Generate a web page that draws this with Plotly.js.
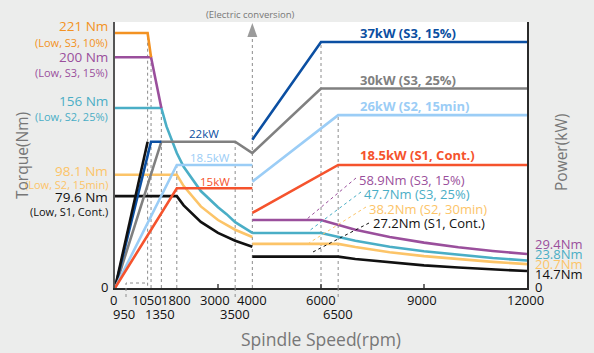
<!DOCTYPE html>
<html><head><meta charset="utf-8">
<script src="https://cdn.plot.ly/plotly-3.0.1.min.js"></script>
<style>html,body{margin:0;padding:0;background:#ecedec;}#chart{width:594px;height:353px;}</style>
</head><body><div id="chart"></div>
<script>
// ---------- data ----------
const xTicksRow1 = [0, 1050, 1800, 3000, 4000, 6000, 9000, 12000];
const xTicksRow2 = [950, 1350, 3500, 6500];

// torque (Nm), low-speed winding
const t221Rpm = [0, 950, 1050];
const t221 = [221, 221, 200];
const t200Rpm = [0, 1050, 1350];
const t200 = [200, 200, 156];
const t156Rpm = [0, 1350, 1500, 1800, 2000, 2500, 3000, 3250, 3500, 3750, 4000];
const t156 = [156, 156, 140, 117, 105, 84, 70, 64, 57, 52, 47.7];
const t98Rpm = [0, 1800, 2000, 2500, 3000, 3500, 4000];
const t98 = [98.1, 98.1, 88.3, 70.7, 58.9, 50.5, 44.2];
const t80Rpm = [0, 1800, 2000, 2500, 3000, 3500, 4000];
const t80 = [79.6, 79.6, 71.6, 57.3, 47.7, 40.9, 35.8];
// torque (Nm), high-speed winding
const t59Rpm = [4000, 6000, 7000, 8000, 9000, 10000, 11000, 12000];
const t59 = [58.9, 58.9, 50.5, 44.2, 39.3, 35.3, 32.1, 29.4];
const t48Rpm = [4000, 6000, 7000, 8000, 9000, 10000, 11000, 12000];
const t48 = [47.7, 47.7, 40.9, 35.8, 31.8, 28.6, 26.0, 23.8];
const t38Rpm = [4000, 6500, 7000, 8000, 9000, 10000, 11000, 12000];
const t38 = [38.2, 38.2, 35.5, 31.0, 27.6, 24.8, 22.6, 20.7];
const t27Rpm = [4000, 6500, 7000, 8000, 9000, 10000, 11000, 12000];
const t27 = [27.2, 27.2, 25.2, 22.1, 19.6, 17.7, 16.1, 14.7];

// power (kW)
const pBlackRpm = [0, 950];
const pBlack = [0, 22];
const pBlueLowRpm = [0, 1050, 1350];
const pBlueLow = [0, 22, 22];
const pBlueHighRpm = [4000, 6000, 12000];
const pBlueHigh = [22.3, 37, 37];
const pGrayRpm = [0, 1350, 3500, 4000, 6000, 12000];
const pGray = [0, 22, 22, 20.3, 30, 30];
const pLBlueLowRpm = [0, 1800, 4000];
const pLBlueLow = [0, 18.5, 18.5];
const pLBlueHighRpm = [4000, 6500, 12000];
const pLBlueHigh = [16, 26, 26];
const pRedLowRpm = [0, 1800, 4000];
const pRedLow = [0, 15, 15];
const pRedHighRpm = [4000, 6500, 12000];
const pRedHigh = [11.3, 18.5, 18.5];

// ---------- styling ----------
const C = {
  orange: '#f39222', purple: '#9a4f9c', teal: '#4aaec6', lorange: '#fcc468',
  black: '#111111', blue: '#0b4fa2', gray: '#808080', lblue: '#9bcdf6', red: '#f5532d'
};
const FONT = 'Open Sans, Noto Sans, sans-serif';
const W = 594, H = 353, L = 115, R = 67, T = 22, B = 65;
const plotH = H - T - B;
const py = p => (H - B - p) / plotH;           // pixel y -> paper y
const px = p => (p - L) / (W - L - R);         // pixel x -> paper x

function line(x, y, color, axis) {
  return {x: x, y: y, type: 'scatter', mode: 'lines', yaxis: axis || 'y',
    line: {color: color, width: 2.6}, hoverinfo: 'skip', showlegend: false};
}

const data = [
  line(t80Rpm, t80, C.black), line(t98Rpm, t98, C.lorange),
  line(t156Rpm, t156, C.teal), line(t200Rpm, t200, C.purple), line(t221Rpm, t221, C.orange),
  line(t27Rpm, t27, C.black), line(t38Rpm, t38, C.lorange),
  line(t48Rpm, t48, C.teal), line(t59Rpm, t59, C.purple),
  line(pGrayRpm, pGray, C.gray, 'y2'),
  line(pBlueLowRpm, pBlueLow, C.blue, 'y2'), line(pBlueHighRpm, pBlueHigh, C.blue, 'y2'),
  line(pBlackRpm, pBlack, C.black, 'y2'),
  line(pLBlueLowRpm, pLBlueLow, C.lblue, 'y2'), line(pLBlueHighRpm, pLBlueHigh, C.lblue, 'y2'),
  line(pRedLowRpm, pRedLow, C.red, 'y2'), line(pRedHighRpm, pRedHigh, C.red, 'y2')
];

const dot = {color: '#8c8c8c', width: 1, dash: 'dot'};
const shapes = [
  {type: 'line', xref: 'x', yref: 'y', x0: 950, x1: 950, y0: 2, y1: 221, line: dot, layer: 'below'},
  {type: 'line', xref: 'x', yref: 'y', x0: 1050, x1: 1050, y0: 0, y1: 200, line: dot, layer: 'below'},
  {type: 'line', xref: 'x', yref: 'y', x0: 1350, x1: 1350, y0: 0, y1: 156, line: dot, layer: 'below'},
  {type: 'line', xref: 'x', yref: 'y2', x0: 1800, x1: 1800, y0: 0, y1: 18.5, line: dot, layer: 'below'},
  {type: 'line', xref: 'x', yref: 'y2', x0: 3500, x1: 3500, y0: 0, y1: 22, line: dot, layer: 'below'},
  {type: 'line', xref: 'x', yref: 'paper', x0: 4000, x1: 4000, y0: 0, y1: py(37), line: dot, layer: 'below'},
  {type: 'line', xref: 'x', yref: 'y2', x0: 6000, x1: 6000, y0: 0, y1: 37, line: dot, layer: 'below'},
  {type: 'line', xref: 'x', yref: 'y2', x0: 6500, x1: 6500, y0: 0, y1: 26, line: dot, layer: 'below'},
  // extensions below the axis
  {type: 'line', xref: 'x', yref: 'paper', x0: 3500, x1: 3500, y0: 0, y1: py(298), line: dot},
  {type: 'line', xref: 'x', yref: 'paper', x0: 6500, x1: 6500, y0: 0, y1: py(298), line: dot},
  // 950 leader
  {type: 'path', xref: 'paper', yref: 'paper',
   path: `M ${px(145)} ${py(283)} L ${px(126)} ${py(283)} L ${px(126)} ${py(300)}`, line: dot},
  // electric conversion arrow
  {type: 'path', xref: 'x', yref: 'paper', xsizemode: 'pixel', ysizemode: 'pixel',
   xanchor: 4000, yanchor: 1, path: 'M -5,-15 L 5,-15 L 0,-1 Z',
   fillcolor: '#9b9b9b', line: {width: 0}},
  // leader lines to torque labels
  {type: 'line', xref: 'paper', yref: 'paper', x0: px(356), y0: py(178), x1: px(307), y1: py(219), line: {color: C.purple, width: 1, dash: 'dot'}},
  {type: 'line', xref: 'paper', yref: 'paper', x0: px(361), y0: py(192), x1: px(309), y1: py(231), line: {color: C.teal, width: 1, dash: 'dot'}},
  {type: 'line', xref: 'paper', yref: 'paper', x0: px(366), y0: py(207), x1: px(309), y1: py(243), line: {color: C.lorange, width: 1, dash: 'dot'}},
  {type: 'line', xref: 'paper', yref: 'paper', x0: px(369), y0: py(223), x1: px(311), y1: py(253), line: {color: C.black, width: 1, dash: 'dot'}}
];

const ann = [];
function txt(t, x, y, o) {
  ann.push(Object.assign({text: t, x: x, y: y, xref: 'paper', yref: 'paper', showarrow: false,
    font: {family: FONT, size: 13, color: '#111'}, xanchor: 'center', yanchor: 'middle'}, o || {}));
}
// x tick labels
const row1Shift = {0: -2, 1050: -4, 1800: -1, 3000: -3, 4000: 0, 6000: 0, 9000: -2, 12000: -2};
xTicksRow1.forEach(v => txt(String(v), v, py(300), {xref: 'x', xshift: row1Shift[v]}));
const row2Pos = {950: 250, 1350: 1300, 3500: 3500, 6500: 6500};
xTicksRow2.forEach(v => txt(String(v), row2Pos[v], py(314), {xref: 'x'}));
// zero labels
txt('0', px(110), py(287), {xanchor: 'right'});
txt('0', px(533), py(287), {xanchor: 'left'});
// left torque labels
const lf = (t, y, col, s) => txt(t, px(110), py(y), {xanchor: 'right', font: {family: FONT, size: s, color: col}});
lf('221 Nm', 26, C.orange, 13.5); lf('(Low, S3, 10%)', 42, C.orange, 11);
lf('200 Nm', 57, C.purple, 13.5); lf('(Low, S3, 15%)', 72, C.purple, 11);
lf('156 Nm', 101, C.teal, 13.5); lf('(Low, S2, 25%)', 116, C.teal, 11);
lf('98.1 Nm', 171, C.lorange, 13.5); lf('(Low, S2, 15min)', 184, C.lorange, 11);
lf('79.6 Nm', 197, C.black, 13.5); lf('(Low, S1, Cont.)', 211, C.black, 11);
// right torque labels
const rt = (t, y, col) => txt(t, px(533), py(y), {xanchor: 'left', font: {family: FONT, size: 13, color: col}});
rt('29.4Nm', 244, C.purple); rt('23.8Nm', 254, C.teal); rt('20.7Nm', 264, C.lorange); rt('14.7Nm', 274, C.black);
// power labels (bold)
const pb = (t, y, col) => txt('<b>' + t + '</b>', px(358), py(y), {xanchor: 'left', font: {family: FONT, size: 13, color: col}});
pb('37kW (S3, 15%)', 33, C.blue); pb('30kW (S3, 25%)', 80, C.gray);
pb('26kW (S2, 15min)', 106, C.lblue); pb('18.5kW (S1, Cont.)', 155, C.red);
// small power labels
const sp = (t, x, y, col) => txt(t, px(x), py(y), {font: {family: FONT, size: 11.5, color: col}});
sp('22kW', 204, 133, C.blue); sp('18.5kW', 210, 157, C.lblue); sp('15kW', 215, 181, C.red);
// middle torque labels
const mt = (t, x, y, col) => txt(t, px(x), py(y), {xanchor: 'left', font: {family: FONT, size: 13, color: col}});
mt('58.9Nm (S3, 15%)', 357, 180, C.purple);
mt('47.7Nm (S3, 25%)', 362, 194, C.teal);
mt('38.2Nm (S2, 30min)', 367, 209, C.lorange);
mt('27.2Nm (S1, Cont.)', 371, 223, C.black);
// conversion label
txt('(Electric conversion)', px(250), py(15), {font: {family: FONT, size: 9.5, color: '#777'}});
// axis titles
txt('Spindle Speed(rpm)', px(321), py(339), {font: {family: FONT, size: 17.5, color: '#777'}});
txt('Torque(Nm)', px(22), py(156), {textangle: -90, font: {family: FONT, size: 15.5, color: '#777'}});
txt('Power(kW)', px(561), py(153), {textangle: -90, font: {family: FONT, size: 15.5, color: '#777'}});

// axis ticks at 3000/6000/9000
[3000, 6000, 9000].forEach(v => shapes.push({type: 'line', xref: 'x', yref: 'paper', x0: v, x1: v,
  y0: 0, y1: py(284), line: {color: '#222', width: 1.3}}));

const layout = {
  width: W, height: H,
  margin: {l: L, r: R, t: T, b: B, pad: 0},
  paper_bgcolor: '#ecedec', plot_bgcolor: '#ffffff',
  showlegend: false,
  xaxis: {range: [0, 12000], showgrid: false, zeroline: false, showticklabels: false, ticks: '',
    showline: true, linecolor: '#2a2a2a', linewidth: 1.6, fixedrange: true},
  yaxis: {range: [0, 230.5], showgrid: false, zeroline: false, showticklabels: false, ticks: '',
    showline: true, linecolor: '#555', linewidth: 1.6, fixedrange: true},
  yaxis2: {range: [0, 40], overlaying: 'y', side: 'right', showgrid: false, zeroline: false,
    showticklabels: false, ticks: '', showline: true, linecolor: '#2a2a2a', linewidth: 1.6, fixedrange: true},
  shapes: shapes, annotations: ann
};
Plotly.newPlot('chart', data, layout, {displayModeBar: false, staticPlot: true});
</script></body></html>
